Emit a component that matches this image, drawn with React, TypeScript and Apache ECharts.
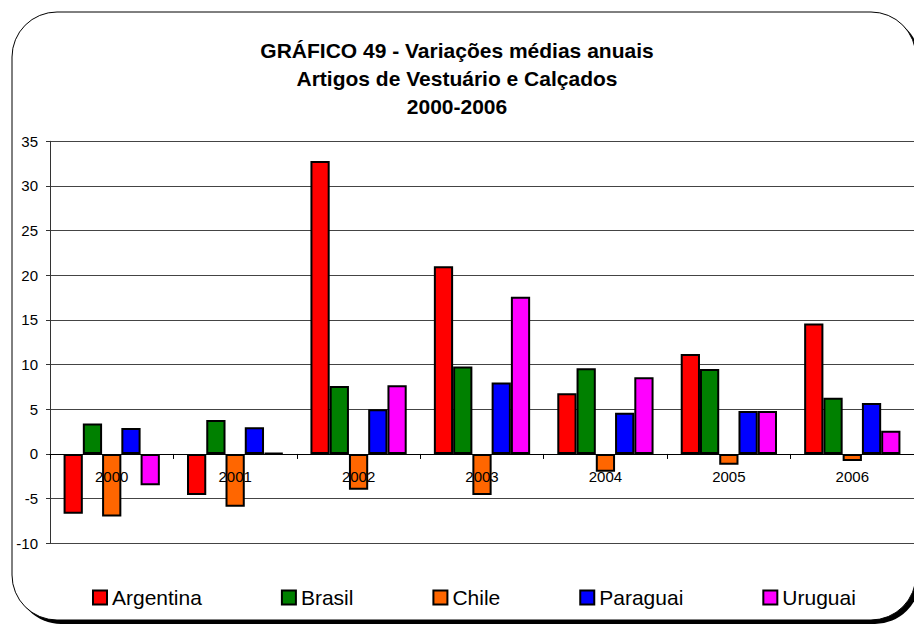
import React, { useEffect, useRef } from "react";
import * as echarts from "echarts";

const years = ["2000", "2001", "2002", "2003", "2004", "2005", "2006"];
const argentina = [-6.7, -4.6, 32.8, 21.0, 6.8, 11.2, 14.6];
const brasil = [3.4, 3.8, 7.6, 9.8, 9.6, 9.5, 6.3];
const chile = [-7.0, -5.9, -4.0, -4.6, -2.0, -1.2, -0.8];
const paraguai = [2.9, 3.0, 5.0, 8.0, 4.6, 4.8, 5.7];
const uruguai = [-3.5, 0.1, 7.7, 17.6, 8.6, 4.8, 2.6];

const yMin = -10;
const yMax = 35;

const seriesDefs = [
  { name: "Argentina", data: argentina, color: "#FF0000" },
  { name: "Brasil", data: brasil, color: "#008000" },
  { name: "Chile", data: chile, color: "#FF6600" },
  { name: "Paraguai", data: paraguai, color: "#0000FF" },
  { name: "Uruguai", data: uruguai, color: "#FF00FF" },
];

const FONT = "'Liberation Sans', Arial, sans-serif";
const GRID_H = 402;

export default function App() {
  const ref = useRef<HTMLDivElement>(null);
  useEffect(() => {
    if (!ref.current) return;
    const chart = echarts.init(ref.current, null, { renderer: "svg" });
    const zeroOffset = -((0 - yMin) / (yMax - yMin)) * GRID_H;
    chart.setOption({
      animation: false,
      title: {
        text: "GRÁFICO 49 - Variações médias anuais\nArtigos de Vestuário e Calçados\n2000-2006",
        left: "center",
        top: 31,
        textStyle: {
          fontFamily: FONT,
          fontSize: 21,
          fontWeight: "bold",
          lineHeight: 28,
          color: "#000",
        },
      },
      graphic: [
        {
          type: "rect",
          z: -2,
          shape: { x: 16, y: 16, width: 904, height: 608, r: 45 },
          style: { fill: "#000" },
        },
        {
          type: "rect",
          z: -1,
          shape: { x: 12, y: 12, width: 904, height: 608, r: 45 },
          style: { fill: "#fff", stroke: "#000", lineWidth: 1 },
        },
      ],
      legend: {
        left: 92,
        top: 587,
        padding: 0,
        itemGap: 79,
        itemWidth: 14,
        itemHeight: 14,
        icon: "rect",
        textStyle: { fontFamily: FONT, fontSize: 21, color: "#000" },
        data: seriesDefs.map((s) => s.name),
      },
      grid: { left: 50, width: 869, top: 141.3, height: GRID_H },
      xAxis: {
        type: "category",
        data: years,
        z: 10,
        offset: zeroOffset,
        axisLine: { onZero: false, lineStyle: { color: "#000", width: 1 } },
        axisTick: { show: true, length: 5, lineStyle: { color: "#000" } },
        axisLabel: { fontFamily: FONT, fontSize: 15, color: "#000", margin: 15 },
      },
      yAxis: {
        type: "value",
        min: yMin,
        max: yMax,
        interval: 5,
        axisLine: { show: true, lineStyle: { color: "#333", width: 1 } },
        axisTick: { show: true, length: 4, lineStyle: { color: "#333" } },
        axisLabel: { fontFamily: FONT, fontSize: 15, color: "#000", margin: 12 },
        splitLine: { lineStyle: { color: "#444", width: 1 } },
      },
      series: seriesDefs.map((s) => ({
        name: s.name,
        type: "bar",
        data: s.data,
        barGap: "0%",
        barCategoryGap: "22%",
        itemStyle: { color: s.color, borderColor: "#000", borderWidth: 2 },
      })),
    });
    return () => chart.dispose();
  }, []);
  return (
    <div
      ref={ref}
      style={{ position: "fixed", left: 0, top: 0, width: 914, height: 626, background: "#fff" }}
    />
  );
}
